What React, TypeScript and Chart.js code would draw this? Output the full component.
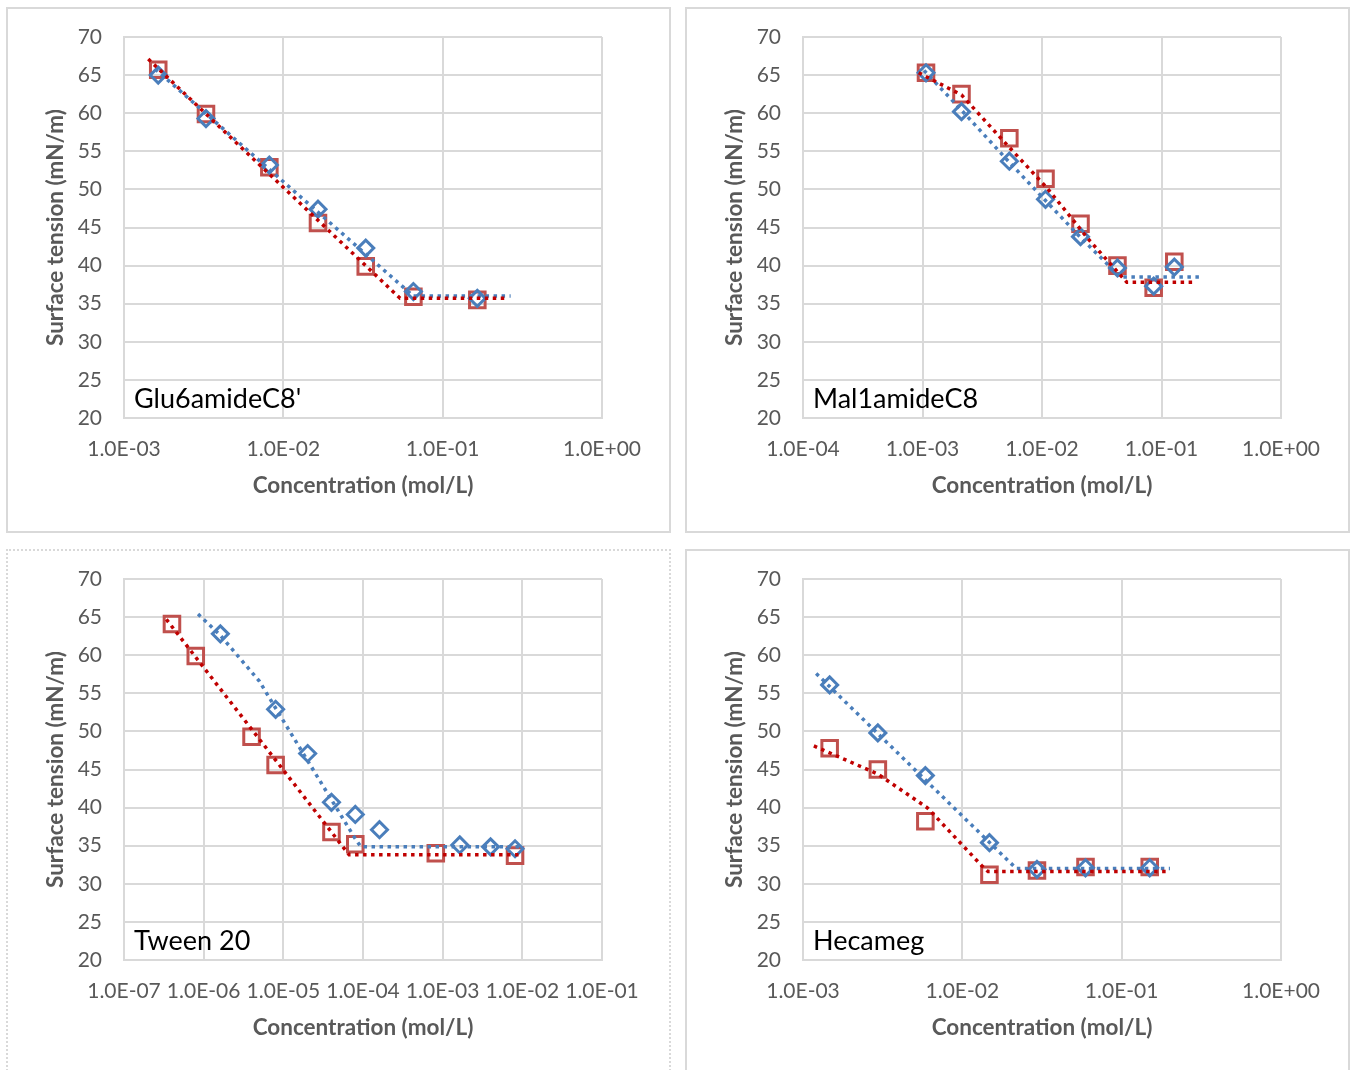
import React, { useEffect, useRef } from 'react';
import { Chart, registerables } from 'chart.js';

Chart.register(...registerables);

// ---------- shared ----------
const yTicks = [20, 25, 30, 35, 40, 45, 50, 55, 60, 65, 70];
const yTitle = 'Surface tension (mN/m)';
const xTitle = 'Concentration (mol/L)';

// ---------- Glu6amideC8' ----------
const gluName = "Glu6amideC8'";
const gluXTicks = [1e-3, 1e-2, 1e-1, 1];
const gluXLabels = ['1.0E-03', '1.0E-02', '1.0E-01', '1.0E+00'];
const gluBlueConc = [1.64e-3, 3.27e-3, 8.17e-3, 1.65e-2, 3.29e-2, 6.55e-2, 0.165];
const gluBlue = [65.0, 59.3, 53.2, 47.4, 42.3, 36.6, 35.7];
const gluRedConc = [1.64e-3, 3.27e-3, 8.17e-3, 1.65e-2, 3.29e-2, 6.55e-2, 0.165];
const gluRed = [65.7, 59.9, 52.9, 45.6, 39.9, 35.9, 35.5];
const gluBlueFitConc = [1.57e-3, 6.55e-2, 0.267];
const gluBlueFit = [65.8, 36.0, 36.0];
const gluRedFitConc = [1.42e-3, 5.41e-2, 0.258];
const gluRedFit = [67.1, 35.7, 35.7];

// ---------- Mal1amideC8 ----------
const malName = 'Mal1amideC8';
const malXTicks = [1e-4, 1e-3, 1e-2, 1e-1, 1];
const malXLabels = ['1.0E-04', '1.0E-03', '1.0E-02', '1.0E-01', '1.0E+00'];
const malBlueConc = [1.07e-3, 2.12e-3, 5.33e-3, 1.07e-2, 2.1e-2, 4.28e-2, 8.6e-2, 0.128];
const malBlue = [65.3, 60.2, 53.7, 48.7, 43.8, 39.7, 37.3, 39.8];
const malRedConc = [1.07e-3, 2.12e-3, 5.33e-3, 1.07e-2, 2.1e-2, 4.28e-2, 8.6e-2, 0.128];
const malRed = [65.3, 62.5, 56.7, 51.4, 45.5, 40.0, 37.1, 40.5];
const malBlueFitConc = [1.03e-3, 2.12e-3, 5.3e-3, 1.06e-2, 2.1e-2, 4.53e-2, 0.216];
const malBlueFit = [65.6, 60.4, 53.6, 48.6, 43.7, 38.5, 38.5];
const malRedFitConc = [9.29e-4, 2.12e-3, 4.79e-3, 1.1e-2, 2.53e-2, 5.13e-2, 0.194];
const malRedFit = [65.3, 62.4, 56.3, 50.2, 43.2, 37.8, 37.8];

// ---------- Tween 20 ----------
const twName = 'Tween 20';
const twXTicks = [1e-7, 1e-6, 1e-5, 1e-4, 1e-3, 1e-2, 1e-1];
const twXLabels = ['1.0E-07', '1.0E-06', '1.0E-05', '1.0E-04', '1.0E-03', '1.0E-02', '1.0E-01'];
const twBlueConc = [1.62e-6, 8.0e-6, 2.02e-5, 4.02e-5, 8.0e-5, 1.61e-4, 1.64e-3, 3.99e-3, 8.1e-3];
const twBlue = [62.8, 52.9, 47.1, 40.7, 39.1, 37.1, 35.1, 34.85, 34.6];
const twRedConc = [4.0e-7, 7.96e-7, 3.99e-6, 8.0e-6, 4.02e-5, 8.0e-5, 8.2e-4, 8.1e-3];
const twRed = [64.1, 59.9, 49.3, 45.6, 36.8, 35.2, 34.0, 33.7];
const twBlueFitConc = [8.5e-7, 1.62e-6, 4.99e-6, 9.33e-6, 7.9e-5, 9.4e-5, 1.02e-2];
const twBlueFit = [65.4, 62.6, 56.6, 51.9, 36.0, 34.85, 34.85];
const twRedFitConc = [3.4e-7, 6.7e-5, 1.02e-2];
const twRedFit = [64.7, 33.8, 33.8];

// ---------- Hecameg ----------
const hecName = 'Hecameg';
const hecXTicks = [1e-3, 1e-2, 1e-1, 1];
const hecXLabels = ['1.0E-03', '1.0E-02', '1.0E-01', '1.0E+00'];
const hecBlueConc = [1.47e-3, 2.95e-3, 5.86e-3, 1.48e-2, 2.94e-2, 5.93e-2, 0.15];
const hecBlue = [56.1, 49.8, 44.2, 35.4, 31.9, 32.1, 32.1];
const hecRedConc = [1.47e-3, 2.95e-3, 5.86e-3, 1.48e-2, 2.94e-2, 5.93e-2, 0.15];
const hecRed = [47.8, 45.0, 38.2, 31.2, 31.75, 32.2, 32.2];
const hecBlueFitConc = [1.21e-3, 2.18e-2, 0.201];
const hecBlueFit = [57.6, 32.0, 32.0];
const hecRedFitConc = [1.17e-3, 2.95e-3, 6.05e-3, 1.32e-2, 1.45e-2, 0.201];
const hecRedFit = [48.1, 44.4, 39.95, 32.4, 31.6, 31.6];

type PanelDef = {
  name: string;
  xTicks: number[];
  xLabels: string[];
  blueConc: number[];
  blue: number[];
  redConc: number[];
  red: number[];
  blueFitConc: number[];
  blueFit: number[];
  redFitConc: number[];
  redFit: number[];
  left: number;
  top: number;
  dotted?: boolean;
};

const panels: PanelDef[] = [
  { name: gluName, xTicks: gluXTicks, xLabels: gluXLabels, blueConc: gluBlueConc, blue: gluBlue, redConc: gluRedConc, red: gluRed, blueFitConc: gluBlueFitConc, blueFit: gluBlueFit, redFitConc: gluRedFitConc, redFit: gluRedFit, left: 6, top: 7 },
  { name: malName, xTicks: malXTicks, xLabels: malXLabels, blueConc: malBlueConc, blue: malBlue, redConc: malRedConc, red: malRed, blueFitConc: malBlueFitConc, blueFit: malBlueFit, redFitConc: malRedFitConc, redFit: malRedFit, left: 685, top: 7 },
  { name: twName, xTicks: twXTicks, xLabels: twXLabels, blueConc: twBlueConc, blue: twBlue, redConc: twRedConc, red: twRed, blueFitConc: twBlueFitConc, blueFit: twBlueFit, redFitConc: twRedFitConc, redFit: twRedFit, left: 6, top: 549, dotted: true },
  { name: hecName, xTicks: hecXTicks, xLabels: hecXLabels, blueConc: hecBlueConc, blue: hecBlue, redConc: hecRedConc, red: hecRed, blueFitConc: hecBlueFitConc, blueFit: hecBlueFit, redFitConc: hecRedFitConc, redFit: hecRedFit, left: 685, top: 549 },
];

const FONT = 'Lato, "Open Sans", sans-serif';
const GRID = '#d9d9d9';
const TEXT = '#595959';
const BLUE = '#4a7ebb';
const RED = '#c0504d';
const RED_FIT = '#c00000';
const BLUE_FIT = '#4a7ebb';

const BOX_W = 665;
const BOX_H = 526;
const CANVAS_W = 661;
const CANVAS_H = 522;
const PLOT_L = 116;
const PLOT_R = 594;
const PLOT_T = 28;
const PLOT_B = 409;

function pts(xs: number[], ys: number[]) {
  return xs.map((x, i) => ({ x, y: ys[i] }));
}

function Panel({ p }: { p: PanelDef }) {
  const ref = useRef<HTMLCanvasElement | null>(null);
  useEffect(() => {
    if (!ref.current) return;
    const chart = new Chart(ref.current, {
      type: 'scatter',
      data: {
        datasets: [
          {
            data: pts(p.redFitConc, p.redFit),
            showLine: true,
            borderColor: RED_FIT,
            borderWidth: 3.5,
            borderDash: [3.5, 4.5],
            borderCapStyle: 'butt',
            pointRadius: 0,
            fill: false,
            tension: 0,
          },
          {
            data: pts(p.blueFitConc, p.blueFit),
            showLine: true,
            borderColor: BLUE_FIT,
            borderWidth: 3.5,
            borderDash: [3.5, 4.5],
            borderCapStyle: 'butt',
            pointRadius: 0,
            fill: false,
            tension: 0,
          },
          {
            data: pts(p.blueConc, p.blue),
            showLine: false,
            pointStyle: 'rectRot',
            pointRadius: 8,
            pointBorderWidth: 3,
            pointBorderColor: BLUE,
            pointBackgroundColor: 'rgba(255,255,255,0)',
          },
          {
            data: pts(p.redConc, p.red),
            showLine: false,
            pointStyle: 'rect',
            pointRadius: 11,
            pointBorderWidth: 3,
            pointBorderColor: RED,
            pointBackgroundColor: 'rgba(255,255,255,0)',
          },
        ],
      } as any,
      options: {
        animation: false,
        responsive: false,
        maintainAspectRatio: false,
        events: [],
        layout: { padding: { top: PLOT_T, right: CANVAS_W - PLOT_R, left: 0, bottom: 0 } },
        plugins: { legend: { display: false }, tooltip: { enabled: false }, title: { display: false } },
        scales: {
          x: {
            type: 'logarithmic',
            min: p.xTicks[0],
            max: p.xTicks[p.xTicks.length - 1],
            afterBuildTicks: (s: any) => {
              s.ticks = p.xTicks.map((v) => ({ value: v }));
            },
            afterFit: (s: any) => {
              s.height = CANVAS_H - PLOT_B;
              s.paddingLeft = 0;
              s.paddingRight = 0;
            },
            grid: { color: GRID, lineWidth: 2, drawTicks: false },
            border: { display: true, color: GRID, width: 2 },
            ticks: {
              autoSkip: false,
              maxRotation: 0,
              minRotation: 0,
              padding: 18.5,
              color: TEXT,
              font: { family: FONT, size: 21 },
              callback: (_v: any, i: number) => p.xLabels[i],
            },
            title: {
              display: true,
              text: xTitle,
              color: TEXT,
              font: { family: FONT, size: 22.5, weight: 'bold' },
              padding: { top: 0, bottom: 32 },
            },
          },
          y: {
            type: 'linear',
            min: 20,
            max: 70,
            afterBuildTicks: (s: any) => {
              s.ticks = yTicks.map((v) => ({ value: v }));
            },
            afterFit: (s: any) => {
              s.width = PLOT_L;
              s.paddingTop = 0;
              s.paddingBottom = 0;
            },
            grid: { color: GRID, lineWidth: 2, drawTicks: false },
            border: { display: true, color: GRID, width: 2 },
            ticks: {
              padding: 22,
              color: TEXT,
              font: { family: FONT, size: 21 },
              callback: (v: any) => String(v),
            },
            title: {
              display: true,
              text: yTitle,
              color: TEXT,
              font: { family: FONT, size: 22.5, weight: 'bold' },
              padding: { top: 34, bottom: 0 },
            },
          },
        },
      } as any,
    });
    return () => chart.destroy();
  }, [p]);

  return (
    <div
      style={{
        position: 'absolute',
        left: p.left,
        top: p.top,
        width: BOX_W,
        height: BOX_H,
        boxSizing: 'border-box',
        border: `2px ${p.dotted ? 'dotted' : 'solid'} ${GRID}`,
        background: '#fff',
      }}
    >
      <canvas
        ref={ref}
        width={CANVAS_W}
        height={CANVAS_H}
        style={{ position: 'absolute', left: 0, top: 0, width: CANVAS_W, height: CANVAS_H }}
      />
      <div
        style={{
          position: 'absolute',
          left: 126,
          top: 374,
          fontFamily: FONT,
          fontSize: 27,
          lineHeight: '30px',
          color: '#000',
          whiteSpace: 'nowrap',
        }}
      >
        {p.name}
      </div>
    </div>
  );
}

export default function App() {
  return (
    <div
      style={{
        position: 'absolute',
        left: 0,
        top: 0,
        width: 1357,
        height: 1070,
        overflow: 'hidden',
        background: '#fff',
      }}
    >
      {panels.map((p, i) => (
        <Panel key={i} p={p} />
      ))}
    </div>
  );
}
